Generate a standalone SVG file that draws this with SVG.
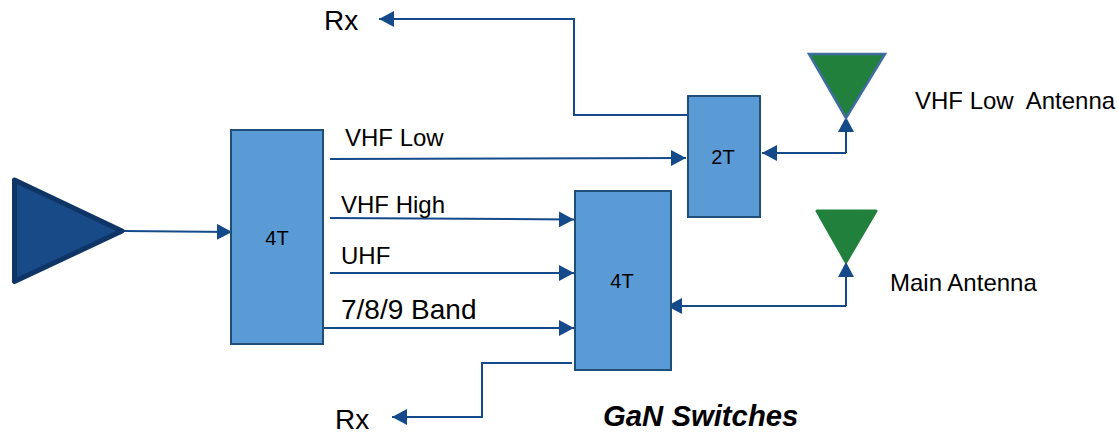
<svg xmlns="http://www.w3.org/2000/svg" width="1118" height="435" viewBox="0 0 1118 435">
<style>
text{font-family:"Liberation Sans",Arial,sans-serif;fill:#000}
.box{fill:#5b9bd5;stroke:#1f4e79;stroke-width:2}
.c{fill:none;stroke:#154a8a;stroke-width:2}
.m{font-size:24px}.s{font-size:20px}
</style>
<defs>
<marker id="a" markerUnits="userSpaceOnUse" markerWidth="16" markerHeight="16" refX="15" refY="8" orient="auto"><path d="M0 0L15 8L0 16Z" fill="#154a8a"/></marker>
</defs>
<g id="connectors">
<path class="c" d="M124 231L232 232" marker-end="url(#a)"/>
<path class="c" d="M330 159L686 158" marker-end="url(#a)"/>
<path class="c" d="M330 218L574 219.500" marker-end="url(#a)"/>
<path class="c" d="M330 273L574 273" marker-end="url(#a)"/>
<path class="c" d="M323 328L574 328" marker-end="url(#a)"/>
<path class="c" d="M688 115H574V19H379" marker-end="url(#a)"/>
<path class="c" d="M846 153H762" marker-end="url(#a)"/>
<path class="c" d="M846 153V117" marker-end="url(#a)"/>
<path class="c" d="M846 306H667" marker-end="url(#a)"/>
<path class="c" d="M846 306V262" marker-end="url(#a)"/>
<path class="c" d="M572 363H482V417H392" marker-end="url(#a)"/>
</g>
<g id="amp"><path d="M14.500 180L122 231L14.500 281.500Z" fill="#174a86" stroke="#0f3566" stroke-width="5" stroke-linejoin="round"/></g>
<g id="switch-a"><rect class="box" x="231" y="130" width="92" height="214"/><text x="277" y="245" class="s" text-anchor="middle">4T</text></g>
<g id="switch-b"><rect class="box" x="575" y="191" width="96" height="179"/><text x="622" y="288" class="s" text-anchor="middle">4T</text></g>
<g id="switch-c"><rect class="box" x="688" y="96" width="72" height="121"/><text x="723" y="164" class="s" text-anchor="middle">2T</text></g>
<g id="antenna-vhf"><path d="M809 54H885L846 118Z" fill="#20803c" stroke="#3f6e9e" stroke-width="2.500"/></g>
<g id="antenna-main"><path d="M817 211H876L846 262Z" fill="#20803c" stroke="#20803c" stroke-width="3" stroke-linejoin="round"/></g>
<g id="labels">
<text x="324" y="30" font-size="28">Rx</text>
<text x="335" y="429" font-size="28">Rx</text>
<text x="345" y="146" class="m">VHF Low</text>
<text x="341" y="213" class="m">VHF High</text>
<text x="341" y="264" class="m">UHF</text>
<text x="341" y="319" font-size="28">7/8/9 Band</text>
<text x="915" y="109" class="m" xml:space="preserve">VHF Low  Antenna</text>
<text x="890" y="291" class="m">Main Antenna</text>
<text x="603" y="426" font-size="29.300" font-weight="bold" font-style="italic">GaN Switches</text>
</g>
</svg>
